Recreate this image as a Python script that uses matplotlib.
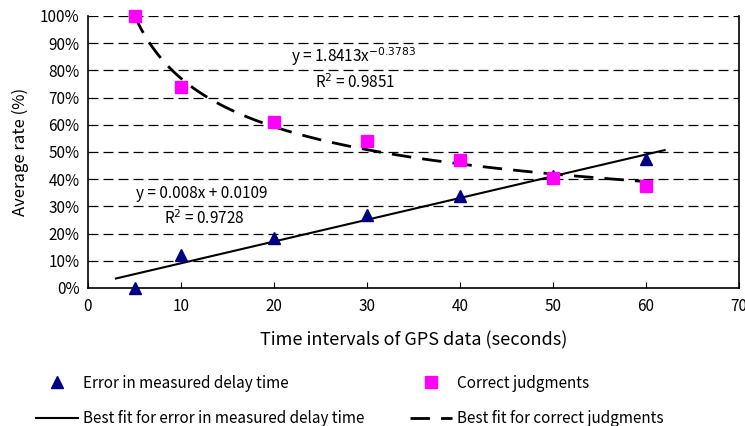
import numpy as np
import matplotlib
matplotlib.use("Agg")
import matplotlib.pyplot as plt
from matplotlib.ticker import PercentFormatter

plt.rcParams['font.family'] = ['Noto Sans CJK JP', 'DejaVu Sans']

# --- data ---
x_error = [5, 10, 20, 30, 40, 50, 60]
y_error = [0.0, 0.12, 0.185, 0.27, 0.34, 0.41, 0.475]

x_correct = [5, 10, 20, 30, 40, 50, 60]
y_correct = [1.00, 0.74, 0.61, 0.54, 0.47, 0.405, 0.375]

# trend line coefficients printed on the chart
lin_a, lin_b = 0.008, 0.0109
pow_a, pow_b = 1.8413, -0.3783

fig = plt.figure(figsize=(7.45, 4.26), dpi=100)
ax = fig.add_axes([88 / 745, 138 / 426, 651 / 745, 272 / 426])

# trend lines
xl = np.linspace(3, 62, 50)
line_fit, = ax.plot(xl, lin_a * xl + lin_b, color='black', lw=1.5)
xp = np.linspace(5, 60, 200)
pow_fit, = ax.plot(xp, pow_a * xp ** pow_b, color='black', lw=2, dashes=(7, 4))

# markers
tri, = ax.plot(x_error, y_error, '^', color='#000080', ms=9, ls='none', clip_on=False, zorder=4)
sq, = ax.plot(x_correct, y_correct, 's', color='#FF00FF', ms=8, ls='none', clip_on=False, zorder=5)

ax.set_xlim(0, 70)
ax.set_ylim(0, 1.0)
ax.set_xticks(range(0, 71, 10))
ax.set_yticks(np.arange(0, 1.01, 0.1))
ax.yaxis.set_major_formatter(PercentFormatter(1.0, decimals=0))

# gridlines dashed
for v in np.arange(0.1, 1.01, 0.1):
    ax.axhline(v, color='black', lw=0.9, dashes=(8, 4), zorder=1)
ax.spines['top'].set_visible(False)
for s in ['left', 'right', 'bottom']:
    ax.spines[s].set_linewidth(1.2)

ax.tick_params(axis='x', direction='in', length=4, labelsize=11, pad=7)
ax.tick_params(axis='y', length=0, labelsize=11, pad=6)

ax.set_xlabel('Time intervals of GPS data (seconds)', fontsize=13, labelpad=12)
ax.set_ylabel('Average rate (%)', fontsize=12, labelpad=8)

# equations
ax.text(21.8, 0.832, 'y = 1.8413x$^{-0.3783}$', fontsize=11)
ax.text(24.4, 0.735, 'R$^2$ = 0.9851', fontsize=11)
ax.text(5.2, 0.33, 'y = 0.008x + 0.0109', fontsize=11)
ax.text(8.2, 0.235, 'R$^2$ = 0.9728', fontsize=11)

fig.legend([tri, line_fit, sq, pow_fit],
           ['Error in measured delay time', 'Best fit for error in measured delay time',
            'Correct judgments', 'Best fit for correct judgments'],
           ncol=2, frameon=False, fontsize=11,
           loc='lower left', bbox_to_anchor=(0.03, -0.035),
           handlelength=2.75, handletextpad=0.3, columnspacing=3.0,
           labelspacing=1.2, numpoints=1)

fig.savefig('out.png', dpi=100)
